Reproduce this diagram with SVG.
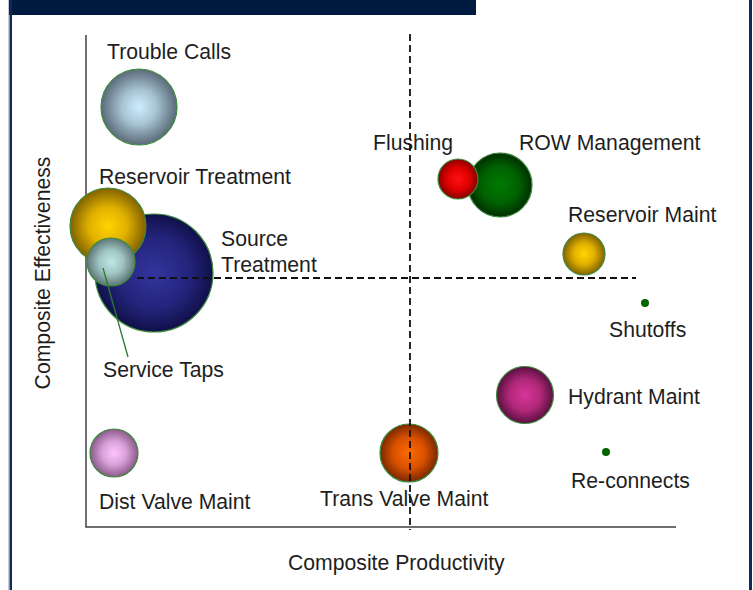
<svg xmlns="http://www.w3.org/2000/svg" width="753" height="590" viewBox="0 0 753 590">
<style>
text{font-family:"Liberation Sans",Arial,sans-serif;font-size:21.2px;fill:#1e1e1e}
.bub{stroke:#3d8a3d;stroke-width:1.2}
.axis{stroke:#404040;stroke-width:1.5;fill:none}
.dash{stroke:#111111;stroke-width:1.8;stroke-dasharray:7 4;fill:none}
</style>
<defs>
<radialGradient id="gBlue" cx="50%" cy="50%" r="50%"><stop offset="0" stop-color="#cdeeff"/><stop offset="0.45" stop-color="#a8c4d4"/><stop offset="1" stop-color="#5a6a78"/></radialGradient>
<radialGradient id="gGold" cx="50%" cy="50%" r="50%"><stop offset="0" stop-color="#ffd400"/><stop offset="0.5" stop-color="#e0b000"/><stop offset="1" stop-color="#806200"/></radialGradient>
<radialGradient id="gNavy" cx="50%" cy="50%" r="50%"><stop offset="0" stop-color="#34349e"/><stop offset="0.6" stop-color="#24247c"/><stop offset="1" stop-color="#10104a"/></radialGradient>
<radialGradient id="gTeal" cx="50%" cy="50%" r="50%"><stop offset="0" stop-color="#bfe6e6"/><stop offset="0.5" stop-color="#a0c4c4"/><stop offset="1" stop-color="#5e7676"/></radialGradient>
<radialGradient id="gRed" cx="50%" cy="50%" r="50%"><stop offset="0" stop-color="#ff1010"/><stop offset="0.55" stop-color="#e00000"/><stop offset="1" stop-color="#8a0000"/></radialGradient>
<radialGradient id="gGreen" cx="50%" cy="50%" r="50%"><stop offset="0" stop-color="#007a00"/><stop offset="0.6" stop-color="#006000"/><stop offset="1" stop-color="#002e00"/></radialGradient>
<radialGradient id="gMag" cx="50%" cy="50%" r="50%"><stop offset="0" stop-color="#d8369a"/><stop offset="0.55" stop-color="#b02878"/><stop offset="1" stop-color="#5a1040"/></radialGradient>
<radialGradient id="gPink" cx="50%" cy="50%" r="50%"><stop offset="0" stop-color="#ffc4ff"/><stop offset="0.5" stop-color="#d8a0d8"/><stop offset="1" stop-color="#8a5a8a"/></radialGradient>
<radialGradient id="gOrange" cx="50%" cy="50%" r="50%"><stop offset="0" stop-color="#ff6a00"/><stop offset="0.55" stop-color="#d85000"/><stop offset="1" stop-color="#7a2800"/></radialGradient>
</defs>
<rect x="0" y="0" width="753" height="590" fill="#ffffff"/>
<g id="frame">
<rect x="9" y="0" width="467" height="15" fill="#001a40"/>
<rect x="8" y="0" width="1" height="590" fill="#c8c8d0"/>
<rect x="9.5" y="0" width="2.5" height="590" fill="#0e2a58"/>
<rect x="749" y="0" width="3" height="590" fill="#0e2a58"/>
</g>
<g id="axes">
<polyline class="axis" points="86,35 86,527 676,527"/>
<text x="288" y="570">Composite Productivity</text>
<text transform="translate(50,273) rotate(-90)" text-anchor="middle">Composite Effectiveness</text>
</g>
<g id="trouble-calls"><circle class="bub" cx="139" cy="107" r="38" fill="url(#gBlue)"/><text x="107" y="59">Trouble Calls</text></g>
<g id="source-treatment"><circle class="bub" cx="154" cy="273" r="59" fill="url(#gNavy)"/><text x="221" y="246">Source</text><text x="221" y="272">Treatment</text></g>
<g id="reservoir-treatment"><circle class="bub" cx="108" cy="226" r="38" fill="url(#gGold)"/><text x="99" y="184">Reservoir Treatment</text></g>
<g id="service-taps"><circle class="bub" cx="111" cy="262" r="24" fill="url(#gTeal)"/><text x="103" y="377">Service Taps</text></g>
<g id="row-management"><circle class="bub" cx="500" cy="185" r="32" fill="url(#gGreen)"/><text x="519" y="150">ROW Management</text></g>
<g id="flushing"><circle class="bub" cx="458" cy="179" r="20" fill="url(#gRed)"/><text x="373" y="150">Flushing</text></g>
<g id="reservoir-maint"><circle class="bub" cx="584" cy="254" r="21" fill="url(#gGold)"/><text x="568" y="222">Reservoir Maint</text></g>
<g id="shutoffs"><circle cx="645" cy="303" r="4" fill="#006400"/><text x="609" y="337">Shutoffs</text></g>
<g id="hydrant-maint"><circle class="bub" cx="525" cy="395" r="28.5" fill="url(#gMag)"/><text x="568" y="404">Hydrant Maint</text></g>
<g id="re-connects"><circle cx="606" cy="452" r="4" fill="#006400"/><text x="571" y="488">Re-connects</text></g>
<g id="dist-valve-maint"><circle class="bub" cx="114" cy="453" r="24" fill="url(#gPink)"/><text x="99" y="509">Dist Valve Maint</text></g>
<g id="trans-valve-maint"><circle class="bub" cx="409" cy="453" r="29" fill="url(#gOrange)"/><text x="320" y="506">Trans Valve Maint</text></g>
<g id="quadrants">
<line class="dash" x1="410" y1="34" x2="410" y2="530"/>
<line class="dash" x1="137" y1="278" x2="636" y2="278"/>
</g>
<g id="connectors">
<line x1="103" y1="268" x2="128" y2="357" stroke="#2e7a2e" stroke-width="1.3"/>
</g>
</svg>
